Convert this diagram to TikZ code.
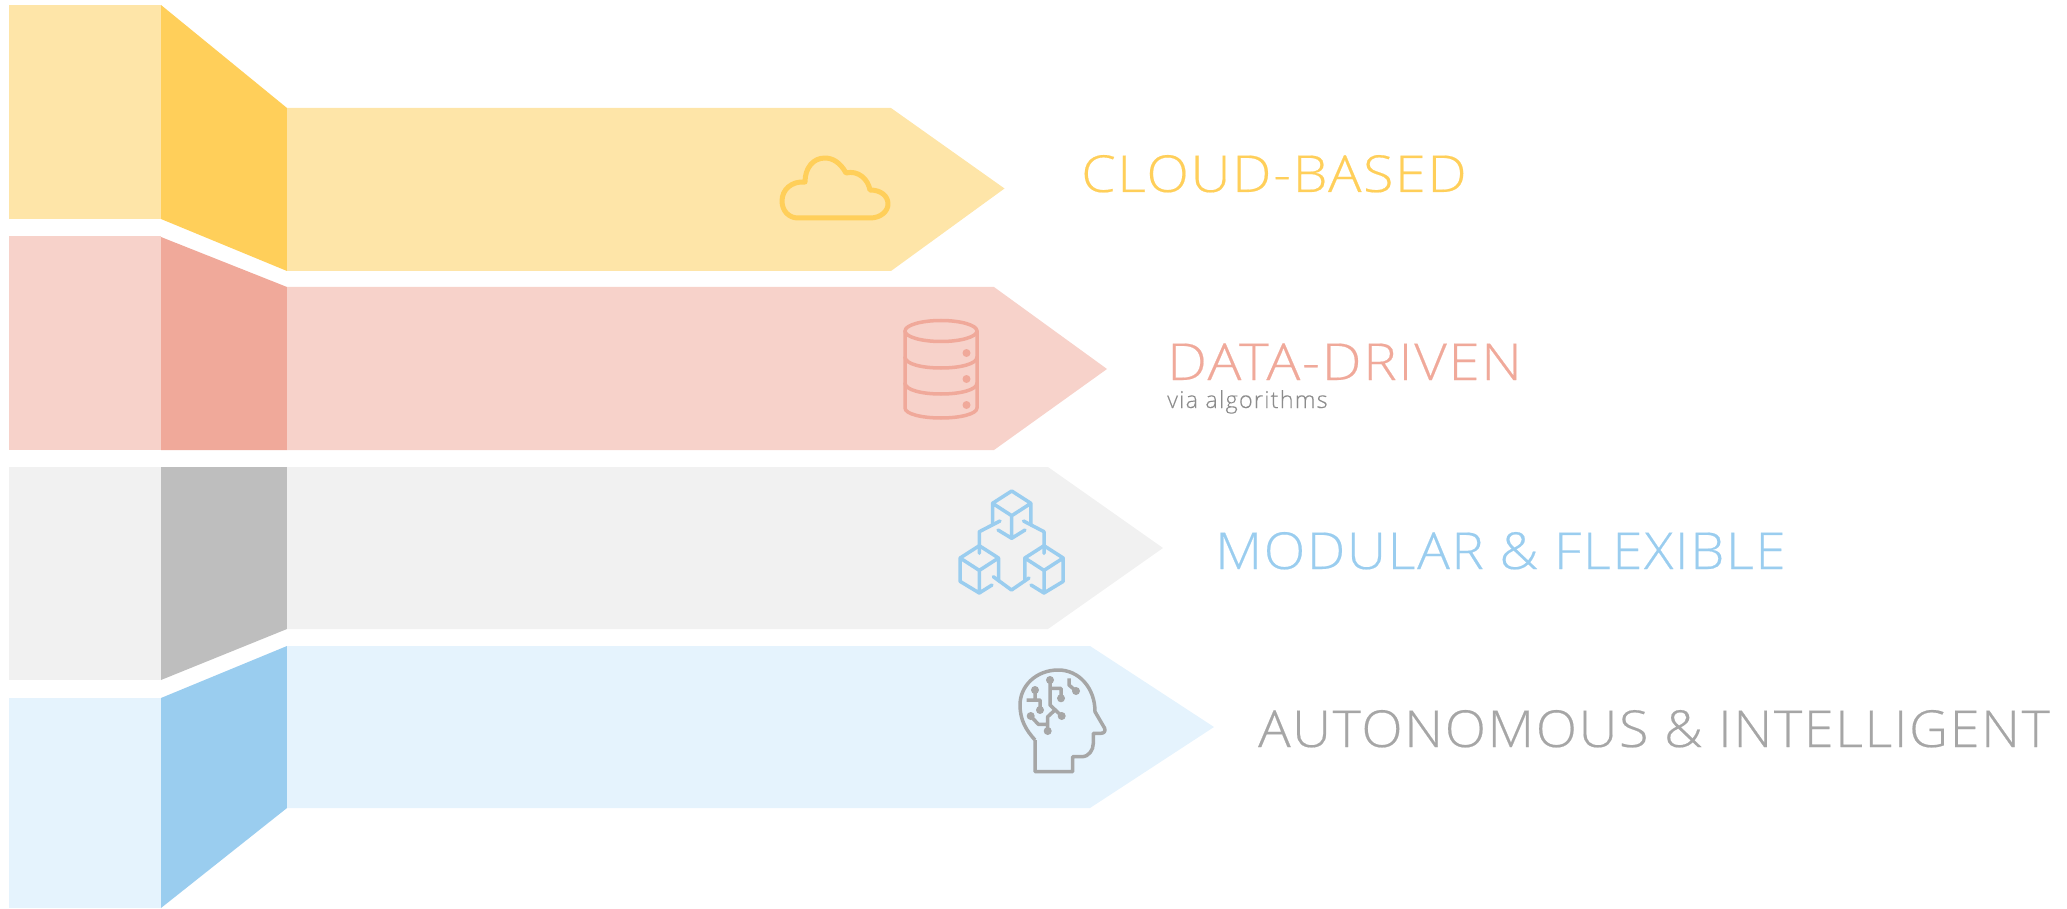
\documentclass[tikz,border=0pt]{standalone}
\usepackage{fontspec}
\setmainfont{Open Sans Light}
\newfontfamily\bandfont[LetterSpace=3,FakeBold=0.35]{Open Sans Light}
\newfontfamily\subfont[LetterSpace=5,FakeBold=0.2]{Open Sans Light}
\definecolor{yellowlight}{HTML}{FEE5A8}
\definecolor{yellowdark}{HTML}{FFCF5A}
\definecolor{pinklight}{HTML}{F7D2CA}
\definecolor{pinkdark}{HTML}{F0A99A}
\definecolor{greylight}{HTML}{F1F1F1}
\definecolor{greydark}{HTML}{BEBEBE}
\definecolor{bluelight}{HTML}{E5F3FD}
\definecolor{bluedark}{HTML}{9ACDEF}
\definecolor{labelgrey}{HTML}{A6A6A6}
\definecolor{subgrey}{HTML}{8C8C8C}
\tikzset{bandlabel/.style={anchor=base west,inner sep=0pt,transform shape,font=\bandfont\fontsize{51}{51}\selectfont},
sublabel/.style={anchor=base west,inner sep=0pt,text=subgrey,font=\subfont\fontsize{23.5}{23.5}\selectfont},
icon/.style={line width=3.5pt,line join=round,line cap=round},
dot/.style={radius=4}}
\begin{document}
\begin{tikzpicture}[x=1pt,y=-1pt]
    \useasboundingbox (0,0) rectangle (2067,909);
    % cloud band
    \path [fill=yellowlight] (9,5) rectangle (161,219);
    \path [fill=yellowdark] (161,5) -- (287,108) -- (287,271) -- (161,219) -- cycle;
    \path [fill=yellowlight] (287,108) -- (891,108) -- (1004.5,188.5) -- (891,271) -- (287,271) -- cycle;
    % data band
    \path [fill=pinklight] (9,236) rectangle (161,450);
    \path [fill=pinkdark] (161,237) -- (287,287) -- (287,450) -- (161,450) -- cycle;
    \path [fill=pinklight] (287,287) -- (994,287) -- (1107,369) -- (994,450) -- (287,450) -- cycle;
    % modular band
    \path [fill=greylight] (9,467) rectangle (161,680);
    \path [fill=greydark] (161,467) -- (287,467) -- (287,629) -- (161,680) -- cycle;
    \path [fill=greylight] (287,467) -- (1048,467) -- (1163,548) -- (1048,629) -- (287,629) -- cycle;
    % autonomous band
    \path [fill=bluelight] (9,698) rectangle (161,908);
    \path [fill=bluedark] (161,698) -- (287,646) -- (287,808) -- (161,908) -- cycle;
    \path [fill=bluelight] (287,646) -- (1090,646) -- (1214,727) -- (1090,808) -- (287,808) -- cycle;
    % labels
    \node [bandlabel,xscale=1.09,text=yellowdark] (cloudlabel) at (1081,192) {CLOUD-BASED};
    \node [bandlabel,xscale=1.105,text=pinkdark] (datalabel) at (1167,380) {DATA-DRIVEN};
    \node [sublabel] (vialabel) at (1167,408) {via algorithms};
    \node [bandlabel,xscale=1.066,text=bluedark] (modularlabel) at (1215,569) {MODULAR \& FLEXIBLE};
    \node [bandlabel,xscale=1.058,text=labelgrey] (autonomouslabel) at (1258,747) {AUTONOMOUS \& INTELLIGENT};
    % cloud icon
    \draw [icon,line width=5pt,yellowdark] (798,218) -- (870,218)
      .. controls (881,218) and (888,211) .. (888,204)
      .. controls (888,196) and (881,190) .. (870,190)
      .. controls (868,179) and (858,170) .. (846,173)
      .. controls (840,162) and (832,158) .. (825,158)
      .. controls (813,158) and (805,168) .. (805,182)
      .. controls (791,181) and (782,190) .. (782,201)
      .. controls (782,211) and (789,218) .. (798,218) -- cycle;
    % database icon
    \draw [icon,pinkdark] (941,331) ellipse [x radius=36,y radius=10.5];
    \draw [icon,pinkdark] (905,331) -- (905,408) .. controls (905,414) and (922,418) .. (941,418)
      .. controls (960,418) and (977,414) .. (977,408) -- (977,331);
    \draw [icon,pinkdark] (905,357) .. controls (905,364) and (922,368) .. (941,368) .. controls (960,368) and (977,364) .. (977,357);
    \draw [icon,pinkdark] (905,383) .. controls (905,390) and (922,394) .. (941,394) .. controls (960,394) and (977,390) .. (977,383);
    \path [fill=pinkdark] (966.5,353) circle [dot] (966.5,379) circle [dot] (966.5,405) circle [dot];
    % cubes icon
    \draw [icon,bluedark] (1011.7,491) -- (1030.9,503.3) -- (1011.7,515.7) -- (992.5,503.3) -- cycle
      (1011.7,515.7) -- (1011.7,538.3) -- (998,530)
      (1011.7,538.3) -- (1025,530)
      (992.5,503.3) -- (992.5,525) (1030.9,503.3) -- (1030.9,525);
    \draw [icon,bluedark] (979.3,545.7) -- (998.5,558) -- (979.3,570.4) -- (960.1,558) -- cycle
      (979.3,570.4) -- (979.3,593) -- (960.1,581.4) -- (960.1,558)
      (979.3,593) -- (992,585) (998.5,558) -- (998.5,581);
    \draw [icon,bluedark] (1044,545.7) -- (1063.2,558) -- (1044,570.4) -- (1024.8,558) -- cycle
      (1044,570.4) -- (1044,593) -- (1063.2,581.4) -- (1063.2,558)
      (1044,593) -- (1031,585) (1024.8,558) -- (1024.8,581);
    \draw [icon,bluedark] (979.3,553.3) -- (979.3,531.7) -- (1000,521);
    \draw [icon,bluedark] (1044,553.3) -- (1044,531.7) -- (1023.5,521);
    \draw [icon,bluedark] (993.3,576.7) -- (1011.5,590) -- (1029,578);
    % head icon
    \draw [icon,labelgrey,line cap=butt] (1035,740) -- (1035,771.7) -- (1072.7,771.7) -- (1072.7,756.7) -- (1081.7,756.7)
      .. controls (1089,756.7) and (1093.3,750) .. (1093.3,743.3) -- (1093.3,733.3) -- (1101,733.3)
      .. controls (1104,733.3) and (1106,731) .. (1104.5,728) -- (1095,711.7)
      .. controls (1095,688) and (1079,670) .. (1058.3,670)
      .. controls (1036,670) and (1020,686) .. (1020,705)
      .. controls (1020,720) and (1026,730) .. (1035,740);
    \draw [icon,labelgrey,line cap=butt] (1050,680) -- (1050,705) -- (1061.7,716)
      (1050,688.3) -- (1061,688.3) -- (1061,698.3)
      (1035,690) -- (1035,700) (1026.7,700) -- (1040,700) -- (1040,710)
      (1069,678.3) -- (1069,685) -- (1076,691)
      (1030.7,716) -- (1038.3,724.3) -- (1047.7,724.3)
      (1047.7,731) -- (1047.7,716.7) -- (1055,710);
    \path [fill=labelgrey] (1050,680) circle [dot] (1061.7,716) circle [dot] (1061,698.3) circle [dot]
      (1035,690) circle [dot] (1040,710) circle [dot] (1076,691) circle [dot]
      (1030.7,716) circle [dot] (1047.7,731) circle [dot];
\end{tikzpicture}
\end{document}
